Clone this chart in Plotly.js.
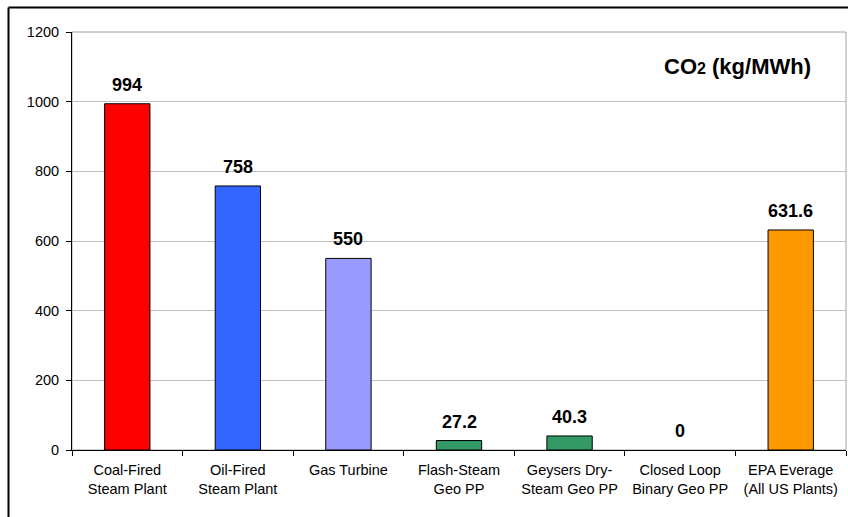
<!DOCTYPE html>
<html>
<head>
<meta charset="utf-8">
<script src="https://cdn.plot.ly/plotly-3.0.1.min.js"></script>
<style>
  html, body { margin: 0; padding: 0; background: #ffffff; }
  #chart { width: 848px; height: 517px; }
</style>
</head>
<body>
<div id="chart"></div>
<script>
// CO2 emissions by power plant type (kg/MWh)
const categories = [
  'Coal-Fired<br>Steam Plant',
  'Oil-Fired<br>Steam Plant',
  'Gas Turbine',
  'Flash-Steam<br>Geo PP',
  'Geysers Dry-<br>Steam Geo PP',
  'Closed Loop<br>Binary Geo PP',
  'EPA Everage<br>(All US Plants)'
];
const co2Values = [994, 758, 550, 27.2, 40.3, 0, 631.6];
const barColors = ['#FF0000', '#3366FF', '#9999FF', '#339966', '#339966', '#339966', '#FF9900'];
const yTicks = [0, 200, 400, 600, 800, 1000, 1200];

const FONT = 'Liberation Sans, Arial, sans-serif';

// plot area geometry in pixels
const W = 848, H = 517;
const L = 72, R = 2, T = 32, B = 67;
const pw = W - L - R, ph = H - T - B;
const px = x => (x - L) / pw;          // pixel x -> paper x
const py = y => (H - B - y) / ph;      // pixel y -> paper y

const trace = {
  type: 'bar',
  x: categories,
  y: co2Values,
  marker: {
    color: barColors,
    // no outline on an empty bar
    line: { color: '#000000', width: co2Values.map(v => (v > 0 ? 1 : 0)) }
  },
  hoverinfo: 'skip'
};

// value labels above each bar
const valueLabels = categories.map((c, i) => ({
  x: c, y: co2Values[i], xref: 'x', yref: 'y',
  text: '<b>' + String(co2Values[i]) + '</b>',
  showarrow: false, yanchor: 'middle', yshift: 19,
  font: { family: FONT, size: 18, color: '#000000' }
}));

const titleNote = {
  xref: 'paper', yref: 'paper', x: px(813), y: py(66),
  xanchor: 'right', yanchor: 'middle', showarrow: false,
  text: '<b>CO<span style="font-size:16px">2</span> (kg/MWh)</b>',
  font: { family: FONT, size: 22, color: '#000000' }
};

const layout = {
  width: W, height: H,
  margin: { l: L, r: R, t: T, b: B, pad: 0 },
  paper_bgcolor: '#ffffff',
  plot_bgcolor: '#ffffff',
  showlegend: false,
  bargap: 0.59,
  font: { family: FONT, size: 14, color: '#000000' },
  xaxis: {
    type: 'category',
    tickson: 'boundaries',
    ticks: 'outside', ticklen: 5, tickcolor: '#000000', tickwidth: 1,
    ticklabelstandoff: 7,
    showline: true, linecolor: '#000000', linewidth: 1,
    showgrid: false, zeroline: false,
    tickfont: { family: FONT, size: 14.5, color: '#000000' },
    fixedrange: true
  },
  yaxis: {
    range: [0, 1200],
    tickvals: yTicks,
    ticktext: yTicks.map(String),
    ticks: 'outside', ticklen: 5, tickcolor: '#000000', tickwidth: 1,
    ticklabelstandoff: 4,
    showline: true, linecolor: '#000000', linewidth: 1,
    showgrid: true, gridcolor: '#C0C0C0', gridwidth: 1,
    zeroline: false,
    tickfont: { family: FONT, size: 14.5, color: '#000000' },
    fixedrange: true
  },
  annotations: valueLabels.concat([titleNote]),
  shapes: [
    // plot area border
    { type: 'rect', xref: 'paper', yref: 'paper', x0: 0, x1: 1, y0: 0, y1: 1,
      line: { color: '#A0A0A0', width: 1 }, layer: 'below' },
    // outer chart frame (top and left edges)
    { type: 'line', xref: 'paper', yref: 'paper', x0: px(8.5), x1: px(848), y0: py(7.5), y1: py(7.5),
      line: { color: '#000000', width: 2 } },
    { type: 'line', xref: 'paper', yref: 'paper', x0: px(8.5), x1: px(8.5), y0: py(7.5), y1: py(517),
      line: { color: '#000000', width: 2 } }
  ]
};

Plotly.newPlot('chart', [trace], layout, { displayModeBar: false, staticPlot: true });
</script>
</body>
</html>
